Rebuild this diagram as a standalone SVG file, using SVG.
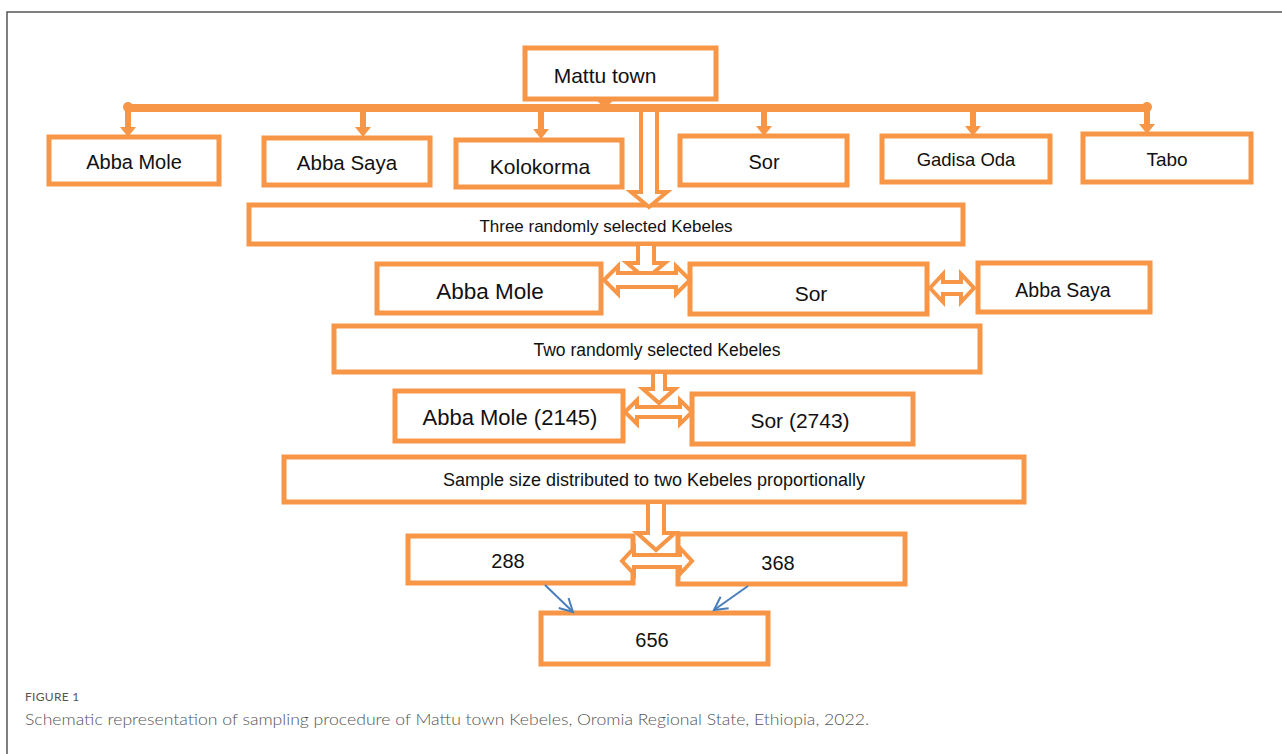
<svg xmlns="http://www.w3.org/2000/svg" width="1282" height="754" viewBox="0 0 1282 754">
<defs>
<style>
.box{fill:#fff;stroke:#F79646;stroke-width:5;}
.t{font-family:"Liberation Sans",Arial,sans-serif;fill:#111;text-anchor:middle;}
.blk{fill:#fff;stroke:#F79646;stroke-width:4;stroke-linejoin:miter;}
.or{fill:#F79646;stroke:none;}
.bl{stroke:#4A7EBB;stroke-width:2;fill:none;}
</style>
<marker id="ba" markerWidth="18" markerHeight="18" refX="15" refY="9" orient="auto" markerUnits="userSpaceOnUse">
<path d="M2,2 L15,9 L2,16" fill="none" stroke="#4A7EBB" stroke-width="2"/>
</marker>
</defs>
<rect width="1282" height="754" fill="#fff"/>
<path d="M7,754 L7,12 L1282,12" fill="none" stroke="#555" stroke-width="1.5"/>

<g id="mattu"><rect class="box" x="525" y="48" width="191" height="51"/><text class="t" x="605" y="83" font-size="21">Mattu town</text></g>

<g id="abbamole1"><rect class="box" x="49" y="137" width="170" height="47"/><text class="t" x="134" y="169" font-size="20">Abba Mole</text></g>
<g id="abbasaya1"><rect class="box" x="264" y="138" width="166" height="47"/><text class="t" x="347" y="170" font-size="20.5">Abba Saya</text></g>
<g id="kolokorma"><rect class="box" x="456" y="140" width="166" height="47"/><text class="t" x="540" y="174" font-size="21">Kolokorma</text></g>
<g id="sor1"><rect class="box" x="680" y="136" width="167" height="49"/><text class="t" x="764" y="169" font-size="20">Sor</text></g>
<g id="gadisaoda"><rect class="box" x="882" y="136" width="168" height="46"/><text class="t" x="966" y="166" font-size="18.5">Gadisa Oda</text></g>
<g id="tabo"><rect class="box" x="1083" y="134" width="168" height="48"/><text class="t" x="1167" y="166" font-size="19">Tabo</text></g>

<g id="three"><rect class="box" x="249" y="205" width="714" height="39"/><text class="t" x="606" y="232" font-size="17">Three randomly selected Kebeles</text></g>

<g id="abbamole3"><rect class="box" x="377" y="264" width="224" height="49"/><text class="t" x="490" y="299" font-size="22.5">Abba Mole</text></g>
<g id="sor3"><rect class="box" x="690" y="264" width="237" height="50"/><text class="t" x="811" y="301" font-size="21">Sor</text></g>
<g id="abbasaya3"><rect class="box" x="978" y="263" width="172" height="49"/><text class="t" x="1063" y="297" font-size="19.5">Abba Saya</text></g>

<g id="two"><rect class="box" x="334" y="326" width="646" height="46"/><text class="t" x="657" y="356" font-size="17.5">Two randomly selected Kebeles</text></g>

<g id="abbamole5"><rect class="box" x="395" y="391" width="228" height="50"/><text class="t" x="510" y="425" font-size="22">Abba Mole (2145)</text></g>
<g id="sor5"><rect class="box" x="692" y="394" width="221" height="50"/><text class="t" x="800" y="428" font-size="21">Sor (2743)</text></g>

<g id="sample"><rect class="box" x="284" y="457" width="740" height="45"/><text class="t" x="654" y="486" font-size="18">Sample size distributed to two Kebeles proportionally</text></g>

<g id="n288"><rect class="box" x="408" y="536" width="225" height="47"/><text class="t" x="508" y="568" font-size="20">288</text></g>
<g id="n368"><rect class="box" x="678" y="534" width="227" height="50"/><text class="t" x="778" y="570" font-size="20">368</text></g>

<g id="n656"><rect class="box" x="541" y="613" width="227" height="51"/><text class="t" x="652" y="647" font-size="20">656</text></g>

<g id="connectors">
  <!-- Mattu to bar -->
  <rect class="or" x="602" y="100" width="6" height="2"/>
  <path class="or" d="M596,100 L614,100 L605,108 Z"/>
  <!-- bar -->
  <line x1="128" y1="108" x2="1147" y2="108" stroke="#F79646" stroke-width="8" stroke-linecap="round"/>
  <circle class="or" cx="128" cy="107" r="5"/>
  <circle class="or" cx="1147" cy="107" r="5"/>
  <!-- big hollow arrow from bar to Three box -->
  <path class="blk" d="M641,112 L641,192 L631,192 L649,207 L667,192 L657,192 L657,112"/>
  <!-- drops -->
  <g class="or">
    <rect x="125" y="110" width="6" height="18"/><path d="M120,127 L136,127 L128,137 Z"/>
    <rect x="360" y="110" width="6" height="18"/><path d="M355,127 L371,127 L363,137 Z"/>
    <rect x="538" y="110" width="6" height="20"/><path d="M533,129 L549,129 L541,139 Z"/>
    <rect x="761" y="110" width="6" height="17"/><path d="M756,126 L772,126 L764,136 Z"/>
    <rect x="970" y="110" width="6" height="17"/><path d="M965,126 L981,126 L973,136 Z"/>
    <rect x="1144" y="110" width="6" height="15"/><path d="M1139,124 L1155,124 L1147,134 Z"/>
  </g>
  <!-- Three -> row 3 -->
  <path class="blk" d="M638,246 L638,263 L627,263 L646,279 L665,263 L654,263 L654,246"/>
  <path class="blk" d="M604,280 L618,266 L618,273 L676,273 L676,266 L690,280 L676,294 L676,287 L618,287 L618,294 Z"/>
  <path class="blk" d="M930,288 L943,274 L943,282 L961,282 L961,274 L974,288 L961,302 L961,294 L943,294 L943,302 Z"/>
  <!-- Two -> row 5 -->
  <path class="blk" d="M653,374 L653,389 L643,389 L659,403 L675,389 L665,389 L665,374"/>
  <path class="blk" d="M625,412 L637,400 L637,407 L680,407 L680,400 L692,412 L680,424 L680,417 L637,417 L637,424 Z"/>
  <!-- Sample -> row 7 -->
  <path class="blk" d="M648,504 L648,533 L637,533 L656,550 L675,533 L664,533 L664,504"/>
  <path class="blk" d="M622,561 L634,548 L634,555 L680,555 L680,548 L692,561 L680,574 L680,567 L634,567 L634,574 Z"/>
  <!-- blue arrows -->
  <line class="bl" x1="545" y1="585" x2="573" y2="612" marker-end="url(#ba)"/>
  <line class="bl" x1="748" y1="586" x2="714" y2="610" marker-end="url(#ba)"/>
</g>

<g id="caption">
<text x="25" y="701" font-family="Lato,'Open Sans',sans-serif" font-size="12" fill="#555" letter-spacing="0.3">FIGURE 1</text>
<text x="25" y="725" font-family="Lato,'Open Sans',sans-serif" font-weight="300" font-size="15" fill="#555" textLength="844" lengthAdjust="spacingAndGlyphs">Schematic representation of sampling procedure of Mattu town Kebeles, Oromia Regional State, Ethiopia, 2022.</text>
</g>
</svg>
